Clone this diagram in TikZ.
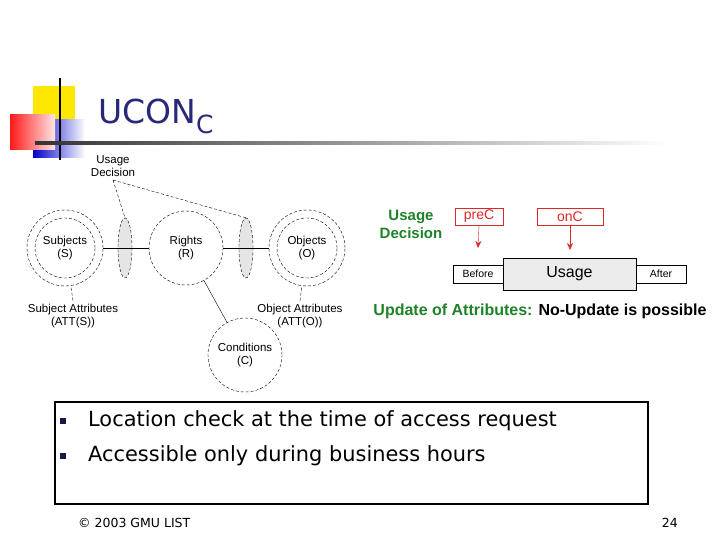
\documentclass[tikz,border=0pt]{standalone}
\usepackage{fontspec}
\setmainfont{Liberation Sans}
\newfontfamily\tah{DejaVu Sans}
\usetikzlibrary{shapes.geometric,arrows.meta}
\definecolor{ttl}{RGB}{40,40,120}
\definecolor{grn}{RGB}{30,130,40}
\definecolor{rd}{RGB}{220,40,40}
\begin{document}
\begin{tikzpicture}[x=1pt,y=-1pt,
  circ/.style={circle,draw,densely dashed,thin,minimum size=#1,inner sep=0pt,align=center,font=\fontsize{11.5}{13}\selectfont},
  ell/.style={ellipse,draw,densely dashed,thin,fill=gray!20,minimum width=14,minimum height=60},
  lbl/.style={font=\fontsize{11.5}{13}\selectfont,align=center},
  rbox/.style={draw=rd,thin,text=rd,font=\fontsize{14}{15}\selectfont,inner sep=0pt},
  gbox/.style={draw,thin,inner sep=0pt,font=\fontsize{10.5}{11}\selectfont},
  arr/.style={-{Stealth[length=7pt,width=6pt]},rd,thin}]
\useasboundingbox (0,0) rectangle (720,540);
% logo
\fill[yellow!90!orange] (33,86) rectangle (75,128);
\shade[left color=blue!80!black,right color=white] (33,120) rectangle (85,158);
\shade[left color=red!90,right color=red!10] (10,115) rectangle (55,150);
\draw[line width=1.5pt] (60,78) -- (60,160);
\shade[left color=black!80,right color=white] (35,142) rectangle (670,144.5);
\node[anchor=west,text=ttl,font=\tah\fontsize{33}{35}\selectfont,inner sep=0] (title) at (98,116) {UCON\raisebox{-10pt}{\fontsize{25}{27}\selectfont C}};
% left diagram
\node[circ=76pt] (so) at (65,248) {};
\node[circ=60pt] (s) at (65,248) {Subjects\\(S)};
\node[circ=74pt] (r) at (186,248) {Rights\\(R)};
\node[circ=76pt] (oo) at (307,248) {};
\node[circ=60pt] (o) at (307,248) {Objects\\(O)};
\node[circ=74pt] (c) at (245,355) {Conditions\\(C)};
\node[ell] (e1) at (125,248) {};
\node[ell] (e2) at (246,248) {};
\draw[thin] (so) -- (r) (r) -- (oo);
\draw[thin] (r) -- (c);
\node[lbl] (ud) at (113,166) {Usage\\Decision};
\draw[thin,densely dashed] (ud.south) -- (e1.north) (ud.south) -- (e2.north);
\node[lbl] (sa) at (73,316) {Subject Attributes\\(ATT(S))};
\node[lbl] (oa) at (300,316) {Object Attributes\\(ATT(O))};
\draw[thin,densely dashed] (sa.north) -- (so);
\draw[thin,densely dashed] (oa.north) -- (oo);
% right diagram
\node[text=grn,font=\bfseries\fontsize{15}{18}\selectfont,align=center] (ud2) at (411,224) {Usage\\Decision};
\node[rbox,minimum width=48,minimum height=17] (pre) at (479,216.5) {preC};
\node[rbox,minimum width=66,minimum height=17] (on) at (570,216.5) {onC};
\node[gbox,minimum width=50,minimum height=18] (bef) at (478,274) {Before};
\node[draw,thin,fill=gray!15,minimum width=133,minimum height=32,inner sep=0,font=\fontsize{16}{18}\selectfont] (use) at (569.5,274) {Usage};
\node[gbox,minimum width=50,minimum height=18] (aft) at (661,274) {After};
\coordinate (pa) at (478,248);
\coordinate (oa2) at (570,250);
\draw[arr] (pre.south) -- (pa);
\draw[arr] (on.south) -- (oa2);
\node[font=\bfseries\fontsize{16}{18}\selectfont] (upd) at (540,311) {\textcolor{grn}{Update of Attributes:} No-Update is possible};
% bottom box
\node[draw,line width=1.8pt,minimum width=593,minimum height=102,inner sep=0] (bx) at (351.5,453) {};
\fill[ttl!60!black] (60,418) rectangle (66,424);
\fill[ttl!60!black] (60,453) rectangle (66,459);
\node[anchor=west,font=\tah\fontsize{20.9}{22}\selectfont,inner sep=0] (t1) at (88,421) {Location check at the time of access request};
\node[anchor=west,font=\tah\fontsize{20.9}{22}\selectfont,inner sep=0] (t2) at (88,456) {Accessible only during business hours};
\node[anchor=west,font=\tah\fontsize{12.5}{14}\selectfont,inner sep=0] (ft) at (78,523) {© 2003 GMU LIST};
\node[anchor=east,font=\tah\fontsize{12.5}{14}\selectfont,inner sep=0] (pg) at (678,523) {24};
\end{tikzpicture}
\end{document}
